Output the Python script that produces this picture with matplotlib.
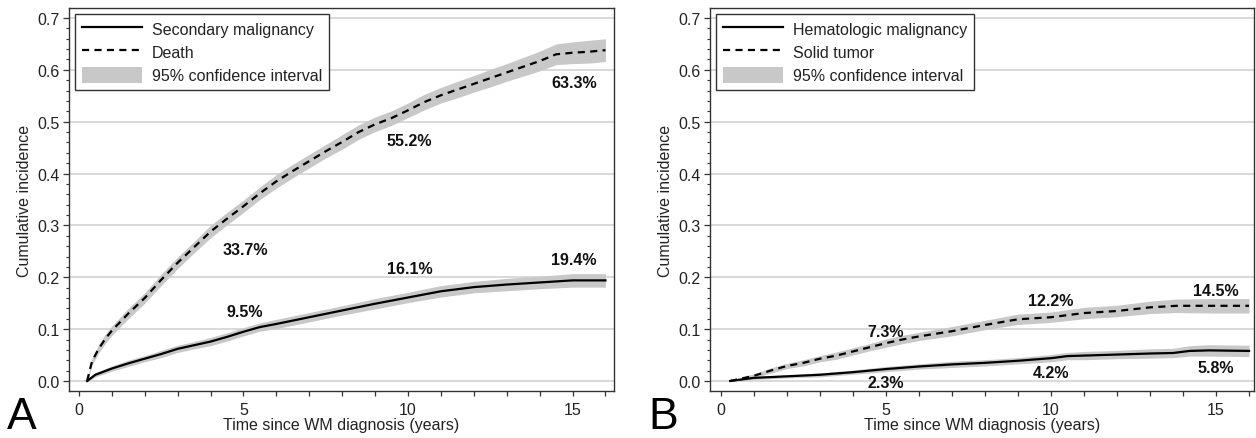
import matplotlib
matplotlib.use("Agg")
import matplotlib.pyplot as plt
from matplotlib.ticker import MultipleLocator, FormatStrFormatter
from matplotlib.lines import Line2D
from matplotlib.patches import Patch
import numpy as np

plt.rcParams['font.family'] = ['Liberation Sans', 'DejaVu Sans']

# ---------------- Panel A data ----------------
a_sec_t = [0.25, 0.5, 1, 1.5, 2, 2.5, 3, 3.5, 4, 4.5, 5, 5.5, 6, 7, 8, 9, 10, 11, 12, 13, 14, 15, 16]
a_sec_v = [0.0, 0.012, 0.024, 0.034, 0.043, 0.052, 0.062, 0.069, 0.076, 0.085, 0.095, 0.104, 0.110, 0.123,
           0.136, 0.149, 0.161, 0.173, 0.181, 0.186, 0.190, 0.194, 0.194]
a_sec_ci = [0.002, 0.004, 0.005, 0.006, 0.006, 0.007, 0.007, 0.007, 0.008, 0.008, 0.008, 0.008, 0.009, 0.009,
            0.009, 0.010, 0.010, 0.011, 0.011, 0.012, 0.012, 0.013, 0.013]

a_dth_t = [0.25, 0.4, 0.6, 0.8, 1, 1.5, 2, 2.5, 3, 3.5, 4, 4.5, 5, 5.5, 6, 6.5, 7, 7.5, 8, 8.5, 9, 9.5,
           10, 10.5, 11, 11.5, 12, 12.5, 13, 13.5, 14, 14.5, 15, 15.5, 16]
a_dth_v = [0.0, 0.038, 0.062, 0.081, 0.097, 0.130, 0.160, 0.195, 0.228, 0.258, 0.288, 0.313, 0.337, 0.362,
           0.385, 0.405, 0.424, 0.443, 0.461, 0.480, 0.495, 0.507, 0.522, 0.538, 0.551, 0.562, 0.573,
           0.584, 0.595, 0.606, 0.617, 0.630, 0.633, 0.635, 0.638]
a_dth_ci = [0.003, 0.007, 0.008, 0.009, 0.009, 0.010, 0.010, 0.011, 0.011, 0.011, 0.012, 0.012, 0.012, 0.012,
            0.013, 0.013, 0.013, 0.013, 0.014, 0.014, 0.014, 0.014, 0.014, 0.015, 0.015, 0.016, 0.016,
            0.017, 0.017, 0.018, 0.019, 0.020, 0.021, 0.022, 0.022]

# ---------------- Panel B data ----------------
b_hem_t = [0.28, 1, 2, 3, 4, 5, 6, 7, 8, 9, 10, 10.5, 11, 12, 13, 13.7, 14.2, 14.8, 16]
b_hem_v = [0.0, 0.006, 0.009, 0.012, 0.017, 0.023, 0.028, 0.032, 0.035, 0.039, 0.044, 0.048, 0.049, 0.051,
           0.053, 0.054, 0.058, 0.059, 0.058]
b_hem_ci = [0.001, 0.003, 0.003, 0.004, 0.004, 0.005, 0.005, 0.006, 0.006, 0.006, 0.007, 0.007, 0.008,
            0.008, 0.009, 0.009, 0.010, 0.011, 0.011]

b_sol_t = [0.28, 1, 1.5, 2, 2.5, 3, 3.5, 4, 4.5, 5, 5.5, 6, 7, 8, 9, 10, 11, 12, 13, 13.8, 15, 16]
b_sol_v = [0.0, 0.010, 0.020, 0.029, 0.035, 0.043, 0.049, 0.057, 0.065, 0.073, 0.080, 0.086, 0.096, 0.108,
           0.119, 0.123, 0.131, 0.135, 0.142, 0.145, 0.145, 0.145]
b_sol_ci = [0.001, 0.004, 0.005, 0.005, 0.006, 0.006, 0.007, 0.007, 0.007, 0.008, 0.008, 0.008, 0.009,
            0.009, 0.010, 0.010, 0.011, 0.011, 0.012, 0.013, 0.014, 0.014]

# annotations: (text, x, y)
a_labels = [("33.7%", 5.05, 0.254), ("9.5%", 5.05, 0.134), ("55.2%", 10.05, 0.463),
            ("16.1%", 10.05, 0.216), ("63.3%", 15.05, 0.576), ("19.4%", 15.05, 0.235)]
b_labels = [("7.3%", 5.0, 0.095), ("2.3%", 5.0, -0.002), ("12.2%", 10.0, 0.156),
            ("4.2%", 10.0, 0.017), ("14.5%", 15.0, 0.174), ("5.8%", 15.0, 0.026)]

a_legend = ["Secondary malignancy", "Death", "95% confidence interval"]
b_legend = ["Hematologic malignancy", "Solid tumor", "95% confidence interval"]

BAND = '#c8c8c8'
GRID = '#d9d9d9'
FS = 11.5
DASH = (0, (3.2, 2.4))

fig = plt.figure(figsize=(12.56, 4.39), dpi=100)
axA = fig.add_axes([69/1256, 47/439, (614-69)/1256, (392-9)/439])
axB = fig.add_axes([710/1256, 47/439, (1254-710)/1256, (392-9)/439])


def draw(ax, s1, s2, labels, legend, xlim):
    for (t, v, ci, ls) in [s1 + ('-',), s2 + (DASH,)]:
        t = np.array(t); v = np.array(v); ci = np.array(ci)
        ax.fill_between(t, v - ci, v + ci, color=BAND, lw=0, zorder=2)
        ax.plot(t, v, color='black', lw=1.6, ls=ls, zorder=3)
    for txt, x, y in labels:
        ax.text(x, y, txt, ha='center', va='center', fontsize=FS, fontweight='bold',
                color='#111111', zorder=4)
    ax.set_xlim(*xlim)
    ax.set_ylim(-0.0193, 0.7193)
    ax.yaxis.set_major_locator(MultipleLocator(0.1))
    ax.yaxis.set_minor_locator(MultipleLocator(0.02))
    ax.yaxis.set_major_formatter(FormatStrFormatter('%.1f'))
    ax.xaxis.set_major_locator(MultipleLocator(5))
    ax.xaxis.set_minor_locator(MultipleLocator(1))
    ax.grid(axis='y', which='major', color=GRID, lw=1.4, zorder=0)
    ax.set_axisbelow(True)
    ax.tick_params(axis='both', which='major', labelsize=FS, colors='#333333', labelcolor='#222222')
    ax.tick_params(axis='y', which='major', length=4.5, width=0.9, pad=2)
    ax.tick_params(axis='y', which='minor', length=2.5, width=0.8, colors='#333333')
    ax.tick_params(axis='x', which='major', length=3.8, width=0.9, pad=4)
    ax.tick_params(axis='x', which='minor', length=3.8, width=0.9, colors='#333333')
    for sp in ax.spines.values():
        sp.set_color('#333333')
        sp.set_linewidth(1.0)
    ax.set_xlabel("Time since WM diagnosis (years)", fontsize=FS, labelpad=0, color='#222222')
    ax.set_ylabel("Cumulative incidence", fontsize=FS, labelpad=4, color='#222222')
    handles = [Line2D([], [], color='black', lw=1.6),
               Line2D([], [], color='black', lw=1.6, ls=DASH),
               Patch(facecolor=BAND, edgecolor='none')]
    leg = ax.legend(handles, legend, loc='upper left', fontsize=FS, frameon=True, fancybox=False,
                    edgecolor='#333333', framealpha=1, borderaxespad=0.35, handlelength=3.8,
                    handleheight=1.15, labelspacing=0.42, handletextpad=0.6, borderpad=0.45)
    leg.get_frame().set_linewidth(1.0)
    for t in leg.get_texts():
        t.set_color('#222222')


draw(axA, (a_sec_t, a_sec_v, a_sec_ci), (a_dth_t, a_dth_v, a_dth_ci), a_labels, a_legend, (-0.3, 16.26))
draw(axB, (b_hem_t, b_hem_v, b_hem_ci), (b_sol_t, b_sol_v, b_sol_ci), b_labels, b_legend, (-0.33, 16.15))

fig.text(7/1256, 1/439, "A", fontsize=32, ha='left', va='bottom', color='black')
fig.text(648/1256, 1/439, "B", fontsize=32, ha='left', va='bottom', color='black')

fig.savefig("out.png", dpi=100)
